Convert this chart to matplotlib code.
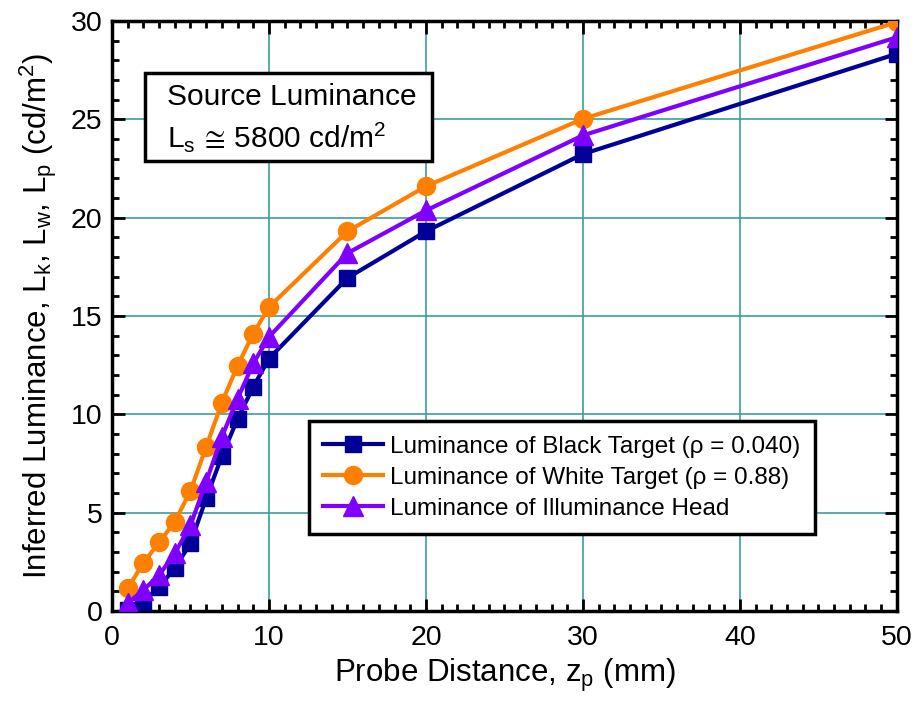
#!/usr/bin/env python3
"""Inferred luminance vs probe distance for black/white targets and illuminance head."""
import matplotlib
matplotlib.use("Agg")
import matplotlib.pyplot as plt
from matplotlib.patches import Rectangle
from matplotlib.ticker import MultipleLocator

plt.rcParams["font.family"] = ["Liberation Sans", "DejaVu Sans"]
plt.rcParams["mathtext.fontset"] = "custom"
plt.rcParams["mathtext.rm"] = "Liberation Sans"
plt.rcParams["mathtext.it"] = "Liberation Sans:italic"
plt.rcParams["mathtext.default"] = "regular"

# probe distance (mm)
distance = [1, 2, 3, 4, 5, 6, 7, 8, 9, 10, 15, 20, 30, 50]
# inferred luminance (cd/m^2)
black_target = [0.05, 0.47, 1.24, 2.17, 3.45, 5.73, 7.88, 9.77, 11.4, 12.84, 16.94, 19.31, 23.24, 28.34]
white_target = [1.15, 2.45, 3.49, 4.54, 6.11, 8.35, 10.6, 12.48, 14.11, 15.46, 19.31, 21.6, 25.03, 29.95]
illum_head = [0.4, 1.07, 1.83, 2.93, 4.37, 6.57, 8.86, 10.8, 12.59, 13.94, 18.2, 20.37, 24.19, 29.18]

series_labels = [
    "Luminance of Black Target (\u03c1 = 0.040)",
    "Luminance of White Target (\u03c1 = 0.88)",
    "Luminance of Illuminance Head",
]

fig = plt.figure(figsize=(9.18, 7.04), dpi=100)
ax = fig.add_axes([0.122, 0.132, 0.855, 0.838])

ax.plot(distance, black_target, color="#000099", lw=3, marker="s", ms=11, label=series_labels[0], zorder=3)
ax.plot(distance, white_target, color="#ff8000", lw=3, marker="o", ms=13, label=series_labels[1], zorder=3)
ax.plot(distance, illum_head, color="#8000ff", lw=3, marker="^", ms=14, label=series_labels[2], zorder=4)

ax.set_xlim(0, 50)
ax.set_ylim(0, 30)
ax.xaxis.set_major_locator(MultipleLocator(10))
ax.xaxis.set_minor_locator(MultipleLocator(1))
ax.yaxis.set_major_locator(MultipleLocator(5))
ax.yaxis.set_minor_locator(MultipleLocator(1))
ax.grid(True, which="major", color="#3a9e9e", lw=1.2)
ax.set_axisbelow(True)
ax.tick_params(which="both", direction="in", top=True, right=True, labelsize=20.5, width=2)
ax.tick_params(which="major", length=9)
ax.tick_params(which="minor", length=5)
ax.tick_params(axis="x", pad=10)
ax.tick_params(axis="y", pad=7)
for sp in ax.spines.values():
    sp.set_linewidth(2.5)

ax.set_xlabel("Probe Distance, z$_p$ (mm)", fontsize=22.5, labelpad=4)
ax.set_ylabel("Inferred Luminance, L$_k$, L$_w$, L$_p$ (cd/m$^2$)", fontsize=22.5, labelpad=8)

# source luminance note in a plain box
ax.add_patch(Rectangle((0.042, 0.763), 0.366, 0.149, transform=ax.transAxes, facecolor="white",
                       edgecolor="black", lw=2.5, zorder=5))
ax.text(0.070, 0.858, "Source Luminance", transform=ax.transAxes, fontsize=21.5,
        va="baseline", ha="left", zorder=6)
ax.text(0.070, 0.786, "L$_s\\,\\cong\\,$5800 cd/m$^2$", transform=ax.transAxes, fontsize=21.5,
        va="baseline", ha="left", zorder=6)

leg = ax.legend(loc="center", bbox_to_anchor=(0.573, 0.226), fontsize=17.5, frameon=True,
                fancybox=False, edgecolor="black", framealpha=1, handlelength=2.45,
                handletextpad=0.3, labelspacing=0.37, borderpad=0.6, borderaxespad=0)
leg.get_frame().set_linewidth(2.5)

fig.savefig("out.png", dpi=100)
